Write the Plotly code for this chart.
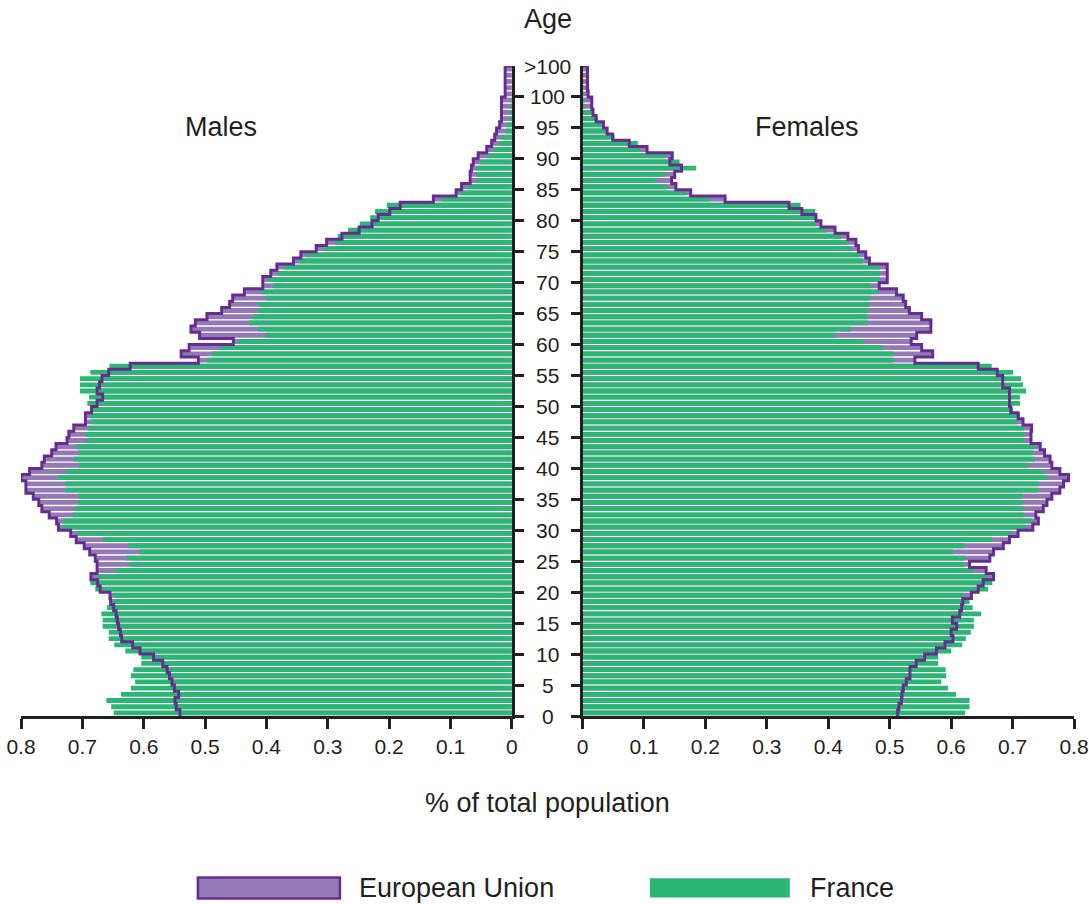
"""
Population pyramid: France vs European Union, % of total population by single year of age.
"""
import plotly.graph_objects as go

# ages 0..104 (101-104 form the ">100" bucket)
ages = list(range(105))

france_males = [
    0.649, 0.653, 0.661, 0.637, 0.621, 0.614, 0.621, 0.617, 0.604, 0.604,
    0.630, 0.648, 0.657, 0.657, 0.667, 0.667, 0.669, 0.660, 0.649, 0.650,
    0.679, 0.687, 0.676, 0.645, 0.623, 0.628, 0.607, 0.625, 0.667, 0.709,
    0.732, 0.732, 0.716, 0.712, 0.706, 0.706, 0.728, 0.728, 0.741, 0.727,
    0.706, 0.714, 0.706, 0.709, 0.693, 0.695, 0.691, 0.685, 0.687, 0.683,
    0.692, 0.689, 0.704, 0.704, 0.704, 0.687, 0.656, 0.497, 0.489, 0.476,
    0.445, 0.400, 0.414, 0.429, 0.422, 0.413, 0.413, 0.401, 0.409, 0.389,
    0.398, 0.382, 0.371, 0.346, 0.336, 0.307, 0.288, 0.284, 0.267, 0.248,
    0.231, 0.223, 0.204, 0.115, 0.084, 0.072, 0.058, 0.058, 0.058, 0.052,
    0.041, 0.030, 0.022, 0.017, 0.010, 0.009, 0.004, 0.003, 0.002, 0.001,
    0.0, 0.0, 0.0, 0.0, 0.0,
]
eu_males = [
    0.541, 0.547, 0.549, 0.543, 0.550, 0.554, 0.558, 0.562, 0.569, 0.584,
    0.606, 0.618, 0.636, 0.638, 0.641, 0.643, 0.645, 0.649, 0.654, 0.655,
    0.671, 0.675, 0.686, 0.676, 0.676, 0.679, 0.688, 0.697, 0.710, 0.719,
    0.739, 0.742, 0.754, 0.766, 0.771, 0.780, 0.792, 0.792, 0.800, 0.786,
    0.766, 0.762, 0.750, 0.743, 0.725, 0.722, 0.714, 0.695, 0.695, 0.685,
    0.676, 0.667, 0.676, 0.672, 0.668, 0.657, 0.622, 0.511, 0.539, 0.526,
    0.454, 0.509, 0.523, 0.516, 0.497, 0.473, 0.460, 0.455, 0.436, 0.406,
    0.406, 0.393, 0.383, 0.356, 0.344, 0.319, 0.302, 0.277, 0.249, 0.228,
    0.218, 0.199, 0.182, 0.128, 0.091, 0.082, 0.068, 0.068, 0.066, 0.063,
    0.055, 0.041, 0.033, 0.028, 0.025, 0.020, 0.017, 0.017, 0.017, 0.017,
    0.011, 0.011, 0.011, 0.011, 0.011,
]
france_females = [
    0.623, 0.630, 0.630, 0.608, 0.595, 0.584, 0.592, 0.591, 0.579, 0.579,
    0.600, 0.618, 0.624, 0.632, 0.637, 0.637, 0.649, 0.635, 0.630, 0.619,
    0.660, 0.667, 0.660, 0.637, 0.621, 0.623, 0.603, 0.622, 0.666, 0.697,
    0.721, 0.732, 0.718, 0.718, 0.716, 0.716, 0.742, 0.742, 0.757, 0.749,
    0.724, 0.736, 0.732, 0.737, 0.719, 0.719, 0.719, 0.707, 0.712, 0.701,
    0.712, 0.712, 0.722, 0.717, 0.714, 0.701, 0.666, 0.506, 0.506, 0.489,
    0.457, 0.411, 0.437, 0.464, 0.464, 0.465, 0.468, 0.468, 0.481, 0.470,
    0.484, 0.484, 0.484, 0.456, 0.452, 0.438, 0.432, 0.421, 0.397, 0.380,
    0.378, 0.379, 0.355, 0.207, 0.168, 0.138, 0.118, 0.134, 0.185, 0.158,
    0.134, 0.093, 0.090, 0.052, 0.039, 0.031, 0.025, 0.015, 0.002, 0.002,
    0.001, 0.0, 0.0, 0.0, 0.0,
]
eu_females = [
    0.513, 0.515, 0.519, 0.520, 0.522, 0.527, 0.533, 0.533, 0.543, 0.557,
    0.576, 0.590, 0.603, 0.600, 0.609, 0.602, 0.614, 0.617, 0.619, 0.633,
    0.644, 0.652, 0.669, 0.657, 0.630, 0.663, 0.669, 0.685, 0.695, 0.709,
    0.733, 0.742, 0.738, 0.750, 0.756, 0.764, 0.777, 0.783, 0.791, 0.777,
    0.764, 0.761, 0.752, 0.745, 0.730, 0.730, 0.731, 0.717, 0.709, 0.697,
    0.695, 0.695, 0.695, 0.684, 0.684, 0.675, 0.644, 0.541, 0.570, 0.552,
    0.535, 0.544, 0.567, 0.567, 0.552, 0.532, 0.526, 0.522, 0.511, 0.483,
    0.496, 0.496, 0.496, 0.467, 0.461, 0.449, 0.445, 0.432, 0.411, 0.388,
    0.380, 0.357, 0.336, 0.232, 0.176, 0.152, 0.145, 0.150, 0.161, 0.142,
    0.146, 0.105, 0.076, 0.049, 0.040, 0.034, 0.022, 0.017, 0.015, 0.015,
    0.009, 0.008, 0.008, 0.008, 0.008,
]

age_labels = ["0", "5", "10", "15", "20", "25", "30", "35", "40", "45", "50",
              "55", "60", "65", "70", "75", "80", "85", "90", "95", "100", ">100"]
age_label_pos = [int(s) - 0.5 for s in age_labels[:-1]] + [ages[-1] + 0.5]
x_ticks = [0, 0.1, 0.2, 0.3, 0.4, 0.5, 0.6, 0.7, 0.8]
x_ticktext = ["0", "0.1", "0.2", "0.3", "0.4", "0.5", "0.6", "0.7", "0.8"]

GREEN = "#2bb673"
PURPLE = "#9379b5"
DARK_PURPLE = "#662d91"
INK = "#231f20"
FONT = "Liberation Sans, Arial, sans-serif"


def outline(values):
    """Stepped envelope of a horizontal histogram (vertical edges at each value)."""
    xs = list(values) + [0]
    ys = [a - 0.5 for a in ages] + [ages[-1] + 0.5]
    return xs, ys


fig = go.Figure()
for eu, fr, xa, ya in [(eu_males, france_males, "x", "y"), (eu_females, france_females, "x2", "y2")]:
    fig.add_trace(go.Bar(x=eu, y=ages, orientation="h", xaxis=xa, yaxis=ya,
                         marker=dict(color=PURPLE, line=dict(width=0)), showlegend=False))
    fig.add_trace(go.Bar(x=fr, y=ages, orientation="h", xaxis=xa, yaxis=ya,
                         marker=dict(color=GREEN, line=dict(width=0)), showlegend=False))
    lx, ly = outline(eu)
    fig.add_trace(go.Scatter(x=lx, y=ly, xaxis=xa, yaxis=ya, mode="lines", line_shape="vh",
                             line=dict(color=DARK_PURPLE, width=3), showlegend=False,
                             hoverinfo="skip"))

axis_common = dict(showgrid=False, zeroline=False, showline=True, linecolor=INK, linewidth=2.5,
                   ticks="outside", tickcolor=INK, tickwidth=2.5, automargin=False)
xaxis_common = dict(**axis_common, tickvals=x_ticks, ticktext=x_ticktext, ticklen=10,
                    tickfont=dict(size=21, color=INK, family=FONT))
yaxis_common = dict(**axis_common, range=[-0.5, ages[-1] + 0.5], tickvals=age_label_pos[:-1],
                    showticklabels=False, ticklen=9)

fig.update_layout(
    width=1089,
    height=904,
    margin=dict(l=21, r=15, t=66, b=188, autoexpand=False),
    paper_bgcolor="white",
    plot_bgcolor="white",
    barmode="overlay",
    bargap=0.22,
    font=dict(family=FONT, color=INK),
    xaxis=dict(**xaxis_common, domain=[0, 0.4662], range=[0.8, 0], anchor="y"),
    xaxis2=dict(**xaxis_common, domain=[0.5333, 1], range=[0, 0.8], anchor="y2"),
    yaxis=dict(**yaxis_common, anchor="x", side="right"),
    yaxis2=dict(**yaxis_common, anchor="x2", side="left"),
)

# age labels sit between the two halves
for lab, pos in zip(age_labels, age_label_pos):
    fig.add_annotation(text=lab, x=0.5, xref="paper", y=pos, yref="y", showarrow=False,
                       xanchor="center", yanchor="middle", font=dict(size=21, color=INK))

titles = [
    ("Age", 0.5, 1.0717, "center"),
    ("Males", 0.1904, 0.9055, "center"),
    ("Females", 0.7467, 0.9055, "center"),
    ("% of total population", 0.5, -0.1345, "center"),
    ("European Union", 0.319, -0.2645, "left"),
    ("France", 0.7472, -0.2645, "left"),
]
for text, x, y, anchor in titles:
    fig.add_annotation(text=text, x=x, y=y, xref="paper", yref="paper", showarrow=False,
                       xanchor=anchor, yanchor="middle", font=dict(size=27, color=INK))

# legend swatches
fig.add_shape(type="rect", xref="paper", yref="paper", x0=0.168, x1=0.3029, y0=-0.2806, y1=-0.2483,
              fillcolor=PURPLE, line=dict(color=DARK_PURPLE, width=2.5))
fig.add_shape(type="rect", xref="paper", yref="paper", x0=0.5972, x1=0.7301, y0=-0.2791, y1=-0.2498,
              fillcolor=GREEN, line=dict(width=0))

fig.write_html(
    "out.html",
    config={"displayModeBar": False},
    post_script="document.body.style.margin='0';document.body.style.overflow='hidden';",
)
